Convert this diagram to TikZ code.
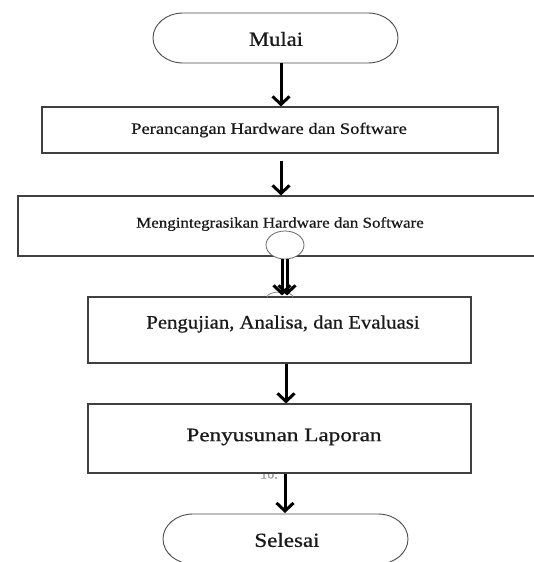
\documentclass[tikz,border=0pt]{standalone}
\usepackage{fontspec}
\setmainfont[FakeBold=0.6]{Liberation Serif}
\usetikzlibrary{arrows.meta,calc,shapes.geometric}
\newcommand{\stx}[2]{\scalebox{#1}[1]{#2}}
\begin{document}
\begin{tikzpicture}[x=1pt,y=-1pt,
  boxst/.style={draw=black!75,line width=1.1pt,fill=white,rectangle,inner sep=0pt},
  txt/.style={text=black!90,inner sep=0pt,anchor=center},
  arr/.style={draw=black,line width=3pt,-{Straight Barb[length=8pt,width=17pt,line width=3pt]}},
  term/.style={draw=black!70,line width=0.9pt,fill=white}]
\useasboundingbox (0,0) rectangle (534,562);
\clip (0,0) rectangle (534,562);
\fill[white] (0,0) rectangle (534,562);

% start terminal
\draw[term] (183,13) -- (368,13) arc[start angle=-90,end angle=90,x radius=30,y radius=25] -- (183,63) arc[start angle=90,end angle=270,x radius=30,y radius=25] -- cycle;
\node[txt,font=\fontsize{20}{24}\selectfont] (mulai) at (276,39) {\stx{1.13}{Mulai}};
\coordinate (mulaiB) at (281,63);

% box 1
\node[boxst,minimum width=456pt,minimum height=46pt] (b1) at (270,130) {};
\node[txt,font=\fontsize{16}{19}\selectfont] (t1) at (269,130) {\stx{1.16}{Perancangan Hardware dan Software}};

% box 2
\node[boxst,minimum width=524pt,minimum height=60pt] (b2) at (280,226) {};
\node[txt,font=\fontsize{15}{18}\selectfont] (t2) at (280,224) {\stx{1.13}{Mengintegrasikan Hardware dan Software}};
\node[draw=black!60,line width=0.8pt,fill=white,ellipse,minimum width=38pt,minimum height=28pt,inner sep=0pt] (ell) at (285,245) {};

% box 3
\node[boxst,minimum width=383pt,minimum height=66pt] (b3) at (279.5,330) {};
\node[txt,font=\fontsize{19}{23}\selectfont] (t3) at (283,324) {\stx{1.09}{Pengujian, Analisa, dan Evaluasi}};
\draw[black!45,line width=0.8pt] (267,297) arc[start angle=180,end angle=360,x radius=13,y radius=5];

% box 4
\node[txt,font=\fontsize{14}{16}\selectfont,text=black!40] (ten) at (269,474) {10.};
\node[boxst,minimum width=383pt,minimum height=69pt] (b4) at (279.5,438.5) {};
\node[txt,font=\fontsize{19}{23}\selectfont] (t4) at (284,437) {\stx{1.22}{Penyusunan Laporan}};

% end terminal
\draw[term] (193,514) -- (378,514) arc[start angle=-90,end angle=90,x radius=30,y radius=25] -- (193,564) arc[start angle=90,end angle=270,x radius=30,y radius=25] -- cycle;
\coordinate (endT) at (285,513);
\node[txt,font=\fontsize{20}{24}\selectfont] (selesai) at (287,540) {\stx{1.15}{Selesai}};

% connectors
\draw[arr] (mulaiB) -- (b1.north -| mulaiB);
\draw[arr] ($(b1.south -| mulaiB)+(0,7)$) -- (b2.north -| mulaiB);
\draw[arr] (ell.south -| 282,0) -- ($(b3.north -| 282,0)+(0,-1)$);
\draw[arr] (ell.south -| 287,0) -- ($(b3.north -| 287,0)+(0,-1)$);
\draw[arr] (b3.south -| 286,0) -- (b4.north -| 286,0);
\draw[arr] (b4.south -| endT) -- (endT);
\end{tikzpicture}
\end{document}
